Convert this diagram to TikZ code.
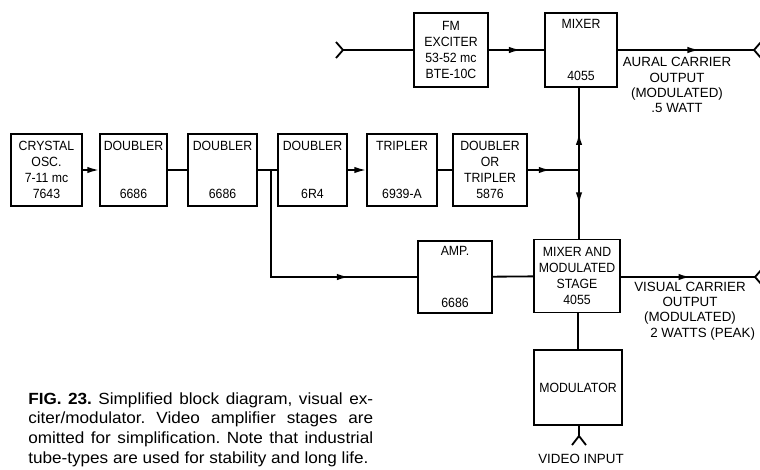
\documentclass[tikz,border=0pt]{standalone}
\usepackage{fontspec}
\setmainfont{Liberation Sans}
\newfontfamily\lblfont[FakeStretch=0.92]{Liberation Sans}
\newfontfamily\capfont[FakeStretch=1.06]{Liberation Sans}
\usetikzlibrary{arrows.meta,decorations.markings}

\tikzset{
    blk/.style={draw,line width=0.9pt,minimum width=1.75cm,minimum height=1.8cm,inner sep=1pt,align=center,font=\lblfont\fontsize{9.5}{11.5}\selectfont},
    lbl/.style={align=center,inner sep=0pt,font=\fontsize{9.5}{10.8}\selectfont},
    wire/.style={line width=1.3pt},
    arr/.style={-{Latex[length=3mm,width=1.6mm]}},
    midarr/.style={postaction={decorate},decoration={markings,mark=at position #1 with {\arrow{Latex[length=3mm,width=1.6mm]}}}}
}

\begin{document}
\begin{tikzpicture}[x=0.025cm,y=-0.025cm]
        \useasboundingbox (0,0) rectangle (760,469);
        % catena oscillatore e moltiplicatori
        \node[blk,minimum width=1.78cm] (osc) at (46.5,170) {CRYSTAL\\OSC.\\7-11 mc\\7643};
        \node[blk,minimum width=1.68cm] (dblA) at (133.5,170) {DOUBLER\\[23pt]6686};
        \node[blk,minimum width=1.73cm] (dblB) at (222.5,170) {DOUBLER\\[23pt]6686};
        \node[blk,minimum width=1.73cm] (dblC) at (312.5,170) {DOUBLER\\[23pt]6R4};
        \node[blk] (trip) at (402,170) {TRIPLER\\[23pt]6939-A};
        \node[blk,minimum width=1.85cm] (dbltrip) at (490,170) {DOUBLER\\OR\\TRIPLER\\5876};
        % parte audio
        \node[blk,minimum width=1.85cm,minimum height=1.85cm] (fmex) at (451,50) {FM\\EXCITER\\53-52 mc\\BTE-10C};
        \node[blk,minimum width=1.8cm,minimum height=1.85cm] (mixer) at (581,50) {MIXER\\[26pt]4055};
        % parte video
        \node[blk,minimum width=1.85cm] (amp) at (455,277) {AMP.\\[25pt]6686};
        \node[blk,minimum width=2.15cm,minimum height=1.83cm] (mixmod) at (577,276) {MIXER AND\\MODULATED\\STAGE\\4055};
        \node[blk,minimum width=2.2cm,minimum height=1.88cm] (modul) at (578,387.5) {MODULATOR};

        \coordinate (jA) at (271,170);
        \coordinate (jB) at (579,170);
        \coordinate (inA) at (343,50);
        \coordinate (outA) at (754,50);
        \coordinate (outB) at (755,277);
        \coordinate (inB) at (579,436);

        \draw[wire,arr] (osc) -- (dblA);
        \draw[wire] (dblA) -- (dblB);
        \draw[wire] (dblB) -- (dblC);
        \draw[wire,arr] (dblC) -- (trip);
        \draw[wire] (trip) -- (dbltrip);
        \draw[wire,midarr=0.45] (dbltrip.east) -- (jB);
        \draw[wire,midarr=0.45] (jB) -- (jB |- mixer.south);
        \draw[wire,midarr=0.5] (jB) -- (jB |- mixmod.north);
        \draw[wire,midarr=0.73] (jA) -- (jA |- amp.west) -- (amp.west);
        \draw[wire] (amp) -- (mixmod);
        \draw[wire] (mixmod) -- (mixmod.south -| modul.north) -- (modul.north);

        % ingressi e uscite
        \draw[wire] (inA) -- (fmex.west);
        \draw[wire] (inA) -- ++(-7,-8) (inA) -- ++(-7,8);
        \draw[wire,midarr=0.58] (fmex) -- (mixer);
        \draw[wire,midarr=0.6] (mixer.east) -- (outA);
        \draw[wire] (outA) -- ++(7,-8) (outA) -- ++(7,8);
        \draw[wire,midarr=0.52] (mixmod.east |- outB) -- (outB);
        \draw[wire] (outB) -- ++(7,-8) (outB) -- ++(7,8);
        \draw[wire] (modul.south -| inB) -- (inB);
        \draw[wire] (inB) -- ++(-7,9) (inB) -- ++(7,9);

        \node[lbl] (aural) at (677,85) {AURAL CARRIER\\OUTPUT\\(MODULATED)\\.5 WATT};
        \node[lbl] (visual) at (690,311) {VISUAL CARRIER\\OUTPUT\\(MODULATED)\hspace*{18pt}\\\hspace*{18pt}2 WATTS (PEAK)};
        \node[lbl] (video) at (581,459) {VIDEO INPUT};

        \node[anchor=base west,text width=8.62cm,align=justify,inner sep=0pt,font=\capfont\fontsize{11.5}{14.2}\selectfont\frenchspacing] (cap) at (28,404)
            {\textbf{FIG. 23.} Simplified block diagram, visual ex-\linebreak citer/modulator. Video amplifier stages are\linebreak omitted for simplification. Note that industrial\linebreak tube-types are used for stability and long life.};
    \end{tikzpicture}
\end{document}
